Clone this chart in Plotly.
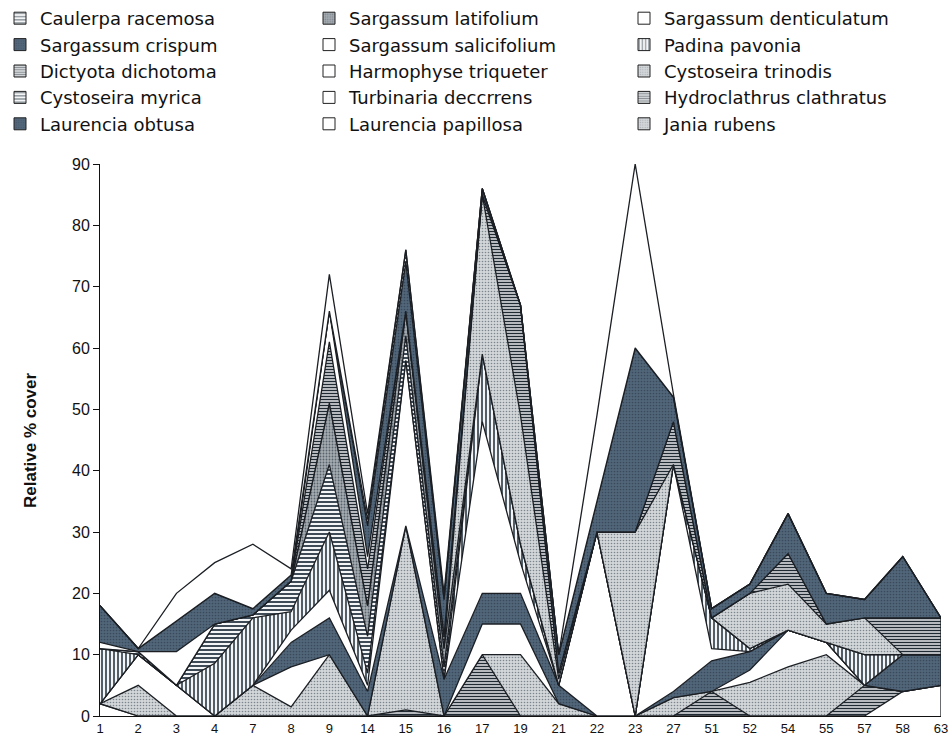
import plotly.graph_objects as go

# Sampling stations along the x axis
stations = ['1', '2', '3', '4', '7', '8', '9', '14', '15', '16', '17', '19', '21',
            '22', '23', '27', '51', '52', '54', '55', '57', '58', '63']

# Relative % cover per species, listed in stacking order (bottom first)
laurencia_papillosa = [2, 0, 0, 0, 0, 0, 0, 0, 0, 0, 0, 0, 0, 0, 0, 0, 0, 0, 0, 0, 0, 4, 5]
hydroclathrus_clathratus = [0, 0, 0, 0, 0, 0, 0, 0, 1, 0, 10, 0, 0, 0, 0, 0, 4, 0, 0, 0, 5, 0, 0]
jania_rubens = [0, 5, 0, 0, 5, 1.5, 10, 0, 30, 0, 0, 10, 2, 0, 0, 3, 0, 5.5, 8, 10, 0, 0, 0]
turbinaria_deccrrens = [0, 5, 5, 0, 0, 6.5, 0, 0, 0, 0, 5, 5, 0, 0, 0, 0, 0, 2, 6, 2, 0, 0, 0]
laurencia_obtusa = [0, 0, 0, 0, 0, 4, 6, 4, 0, 6, 5, 5, 3, 0, 0, 1, 5, 3, 0, 0, 0, 6, 5]
harmophyse_triqueter = [0, 0, 0, 0, 0, 2, 4.5, 1, 27, 0, 28, 5, 0, 30, 0, 37, 2, 0, 0, 0, 0, 0, 0]
padina_pavonia = [9, 0, 0, 8.6, 11, 3, 9.5, 2, 0, 0, 11, 3, 0, 0, 0, 0, 5, 0.5, 0, 0, 5, 0, 0]
cystoseira_myrica = [0, 0.5, 0, 6.4, 0.5, 5, 11, 6, 4, 2, 0, 0, 0, 0, 0, 0, 0, 0, 0, 0, 0, 0, 0]
sargassum_latifolium = [0, 0, 0, 0, 0, 0, 10, 5, 4, 3, 0, 0, 0, 0, 0, 0, 0, 0, 0, 0, 0, 0, 0]
cystoseira_trinodis = [0, 0, 0, 0, 0, 0, 0, 0, 0, 0, 26, 21, 1, 0, 30, 0, 0, 9, 7.5, 3, 6, 0, 0]
dictyota_dichotoma = [0, 0, 0, 0, 0, 0, 10, 6, 0, 2, 0, 18, 1, 0, 0, 7, 0, 0, 5, 0, 0, 6, 6]
sargassum_salicifolium = [1, 0, 5.5, 0, 0, 0, 5, 2, 0, 0, 0, 0, 0, 0, 0, 0, 0, 0, 0, 0, 0, 0, 0]
sargassum_crispum = [6, 0.5, 5, 5, 1, 1, 0, 5, 8, 6, 1, 0, 3, 5, 30, 4, 1.5, 1.5, 6.5, 5, 3, 10, 0]
caulerpa_racemosa = [0, 0, 0, 0, 0, 0, 0, 1, 2, 0, 0, 0, 0, 0, 0, 0, 0, 0, 0, 0, 0, 0, 0]
sargassum_denticulatum = [0, 0, 4.5, 5, 10.5, 1, 6, 1, 0, 1, 0, 0, 0, 14, 30, 0.5, 0, 0, 0, 0, 0, 0, 0]

# Legend labels, read across the three legend columns row by row
legend_order = ['Caulerpa racemosa', 'Sargassum latifolium', 'Sargassum denticulatum',
                'Sargassum crispum', 'Sargassum salicifolium', 'Padina pavonia',
                'Dictyota dichotoma', 'Harmophyse triqueter', 'Cystoseira trinodis',
                'Cystoseira myrica', 'Turbinaria deccrrens', 'Hydroclathrus clathratus',
                'Laurencia obtusa', 'Laurencia papillosa', 'Jania rubens']

# Fill styles (monochrome print look)
WHITE = dict(bg='#ffffff', fg='#ffffff', shape='', size=4, solidity=0.3)
DARK = dict(bg='#52667a', fg='#394a5a', shape='.', size=3, solidity=0.25)
LIGHT_DOT = dict(bg='#d2d6d9', fg='#7d858c', shape='.', size=3, solidity=0.22)
MID_DOT = dict(bg='#a4abb1', fg='#5a636b', shape='.', size=3, solidity=0.3)
H_STRIPE = dict(bg='#f4f5f6', fg='#2a3844', shape='-', size=4, solidity=0.45)
H_STRIPE_DENSE = dict(bg='#e8eaec', fg='#1f2a33', shape='-', size=3, solidity=0.5)
V_STRIPE = dict(bg='#f4f5f6', fg='#2a3844', shape='|', size=4, solidity=0.4)

series = [
    ('Laurencia papillosa', laurencia_papillosa, WHITE),
    ('Hydroclathrus clathratus', hydroclathrus_clathratus, H_STRIPE_DENSE),
    ('Jania rubens', jania_rubens, LIGHT_DOT),
    ('Turbinaria deccrrens', turbinaria_deccrrens, WHITE),
    ('Laurencia obtusa', laurencia_obtusa, DARK),
    ('Harmophyse triqueter', harmophyse_triqueter, WHITE),
    ('Padina pavonia', padina_pavonia, V_STRIPE),
    ('Cystoseira myrica', cystoseira_myrica, H_STRIPE),
    ('Sargassum latifolium', sargassum_latifolium, MID_DOT),
    ('Cystoseira trinodis', cystoseira_trinodis, LIGHT_DOT),
    ('Dictyota dichotoma', dictyota_dichotoma, H_STRIPE_DENSE),
    ('Sargassum salicifolium', sargassum_salicifolium, WHITE),
    ('Sargassum crispum', sargassum_crispum, DARK),
    ('Caulerpa racemosa', caulerpa_racemosa, H_STRIPE),
    ('Sargassum denticulatum', sargassum_denticulatum, WHITE),
]

OUTLINE = '#1b1f24'

fig = go.Figure()

for name, values, st in series:
    pattern = dict(shape=st['shape'], fgcolor=st['fg'], bgcolor=st['bg'],
                   size=st['size'], solidity=st['solidity'], fillmode='replace')
    fig.add_trace(go.Scatter(
        x=stations, y=values, name=name, mode='lines',
        stackgroup='cover', fillcolor=st['bg'], fillpattern=pattern,
        line=dict(color=OUTLINE, width=1.3), showlegend=False,
        legendgroup=name, hoverinfo='skip'))

# Closing edge of the stacked areas at the last station
total_last = sum(values[-1] for _, values, _ in series)
fig.add_trace(go.Scatter(x=[stations[-1], stations[-1]], y=[0, total_last], mode='lines',
                         line=dict(color=OUTLINE, width=1.3), showlegend=False,
                         hoverinfo='skip'))

# Legend keys as small patterned squares, spread over three legend columns
style_by_name = {name: st for name, _, st in series}
legend_ids = ['legend', 'legend2', 'legend3']
for rank, name in enumerate(legend_order):
    st = style_by_name[name]
    fig.add_trace(go.Bar(
        x=[None], y=[None], name=name, legendgroup=name, legendrank=rank + 1,
        legend=legend_ids[rank % 3],
        marker=dict(color=st['bg'],
                    pattern=dict(shape=st['shape'], fgcolor=st['fg'], bgcolor=st['bg'],
                                 size=st['size'], solidity=st['solidity']),
                    line=dict(color='#222222', width=1)),
        hoverinfo='skip'))

legend_font = dict(family='DejaVu Sans', size=18, color='#111111')
legend_common = dict(orientation='v', xref='container', yref='container',
                     xanchor='left', yanchor='top', y=1.0, traceorder='normal',
                     font=legend_font, bgcolor='rgba(0,0,0,0)',
                     itemclick=False, itemdoubleclick=False, tracegroupgap=0)

fig.update_layout(
    width=948, height=754,
    margin=dict(l=100, r=7, t=164, b=38, autoexpand=False),
    paper_bgcolor='white', plot_bgcolor='white',
    showlegend=True,
    legend=dict(x=0.0, **legend_common),
    legend2=dict(x=309 / 948, **legend_common),
    legend3=dict(x=624 / 948, **legend_common),
    xaxis=dict(type='category', categoryorder='array', categoryarray=stations,
               range=[0, len(stations) - 1], showgrid=False, zeroline=False,
               showline=True, linecolor='#111111', linewidth=1, ticks='',
               tickfont=dict(family='Liberation Sans, Arial', size=13, color='#111111')),
    yaxis=dict(range=[0, 90], dtick=10, showgrid=False, zeroline=False,
               showline=True, linecolor='#111111', linewidth=1,
               ticks='outside', ticklen=6, tickcolor='#111111',
               tickfont=dict(family='Liberation Sans, Arial', size=16, color='#111111')),
    annotations=[dict(text='<b>Relative % cover</b>', textangle=-90,
                      xref='paper', yref='paper', x=-70 / 841, y=0.5,
                      xanchor='center', yanchor='middle', showarrow=False,
                      font=dict(family='Liberation Sans, Arial', size=17,
                                color='#111111'))],
    barmode='overlay',
)

fig.write_html('out.html')
